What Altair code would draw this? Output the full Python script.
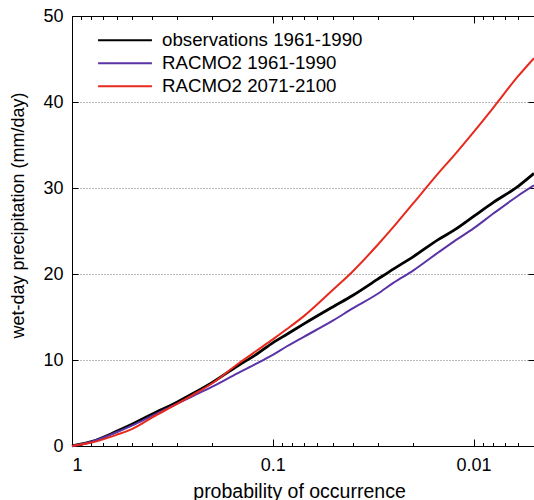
import altair as alt
import pandas as pd

# probability of occurrence (x) and wet-day precipitation (mm/day)
prob = [1, 0.8, 0.6, 0.5, 0.4, 0.3, 0.25, 0.2, 0.15, 0.12, 0.1, 0.085, 0.07, 0.05, 0.04,
        0.03, 0.025, 0.02, 0.015, 0.0125, 0.01, 0.008, 0.006, 0.005]
obs_1961 = [0, 0.5, 1.7, 2.55, 3.7, 5.1, 6.1, 7.4, 9.3, 10.7, 12.0, 13.0, 14.2, 16.2, 17.5,
            19.4, 20.6, 22.0, 24.0, 25.1, 26.7, 28.3, 30.2, 31.7]
racmo_1961 = [0, 0.5, 1.6, 2.4, 3.5, 4.9, 5.8, 6.9, 8.45, 9.6, 10.6, 11.6, 12.7, 14.6, 16.0,
              17.7, 19.0, 20.4, 22.5, 23.8, 25.3, 27.0, 29.1, 30.3]
racmo_2071 = [0, 0.4, 1.3, 2.0, 3.3, 4.9, 5.95, 7.3, 9.5, 11.1, 12.4, 13.6, 15.1, 18.2, 20.3,
              23.4, 25.5, 28.2, 31.7, 33.8, 36.5, 39.3, 43.0, 45.1]

series_names = ["observations 1961-1990", "RACMO2 1961-1990", "RACMO2 2071-2100"]
series_colors = ["#000000", "#5a33a6", "#e8291e"]
series_widths = [2.8, 2.0, 2.0]

major_x = [1, 0.1, 0.01]
minor_x = [0.9, 0.8, 0.7, 0.6, 0.5, 0.4, 0.3, 0.2,
           0.09, 0.08, 0.07, 0.06, 0.05, 0.04, 0.03, 0.02,
           0.009, 0.008, 0.007, 0.006]
y_ticks = [0, 10, 20, 30, 40, 50]

rows = []
for name, vals, w in zip(series_names, [obs_1961, racmo_1961, racmo_2071], series_widths):
    for p, v in zip(prob, vals):
        rows.append({"series": name, "p": p, "value": v, "w": w})
df = pd.DataFrame(rows)

FONT = "Liberation Sans"
xscale = alt.Scale(type="log", domain=[0.005, 1], reverse=True)
yscale = alt.Scale(domain=[0, 50], nice=False, zero=False)

lines = alt.Chart(df).mark_line(interpolate="monotone").encode(
    x=alt.X("p:Q", scale=xscale,
            axis=alt.Axis(orient="bottom", values=major_x, format="~g",
                          tickSize=alt.ExprRef(expr="-7"), labelPadding=17,
                          tickColor="black", domainColor="black", labelColor="black",
                          labelFontSize=18, labelFont=FONT, grid=False,
                          title="probability of occurrence", titleFontSize=19.5,
                          titleFont=FONT, titleFontWeight="normal", titleColor="black",
                          titleBaseline="alphabetic", titleAlign="center",
                          titleX=227, titleY=51)),
    y=alt.Y("value:Q", scale=yscale,
            axis=alt.Axis(orient="left", values=y_ticks,
                          tickSize=alt.ExprRef(expr="-6"), labelPadding=15,
                          tickColor="black", domainColor="black", labelColor="black",
                          labelFontSize=18, labelFont=FONT,
                          grid=True, gridDash=[1, 2], gridColor="#777777", gridWidth=1,
                          title="wet-day precipitation (mm/day)", titleFontSize=18,
                          titleFont=FONT, titleFontWeight="normal", titleColor="black",
                          titleBaseline="alphabetic", titleX=-49, titleY=199, titleAngle=-90,
                          titleAlign="center")),
    color=alt.Color("series:N",
                    scale=alt.Scale(domain=series_names, range=series_colors),
                    legend=alt.Legend(title=None, orient="none", legendX=25, legendY=13,
                                      symbolType="stroke", symbolSize=2900,
                                      symbolStrokeWidth=1.8, labelFontSize=18.7,
                                      labelFont=FONT, labelColor="black", labelLimit=0,
                                      clipHeight=22.5,
                                      labelOffset=9, rowPadding=0, padding=0)),
    strokeWidth=alt.StrokeWidth("w:Q", scale=None, legend=None),
)

ghost = alt.Chart(df).mark_point(opacity=0)

minor_bottom = ghost.encode(
    x=alt.X("p:Q", scale=xscale,
            axis=alt.Axis(orient="bottom", values=minor_x, labels=False, domain=False,
                          tickSize=alt.ExprRef(expr="-3.5"), tickColor="black",
                          grid=False, title=None)),
    y=alt.Y("value:Q", scale=yscale, axis=None),
)
major_top = ghost.encode(
    x=alt.X("p:Q", scale=xscale,
            axis=alt.Axis(orient="top", values=major_x, labels=False, domain=True,
                          domainColor="black",
                          tickSize=alt.ExprRef(expr="-7"), tickColor="black",
                          grid=False, title=None)),
    y=alt.Y("value:Q", scale=yscale, axis=None),
)
minor_top = ghost.encode(
    x=alt.X("p:Q", scale=xscale,
            axis=alt.Axis(orient="top", values=minor_x, labels=False, domain=False,
                          tickSize=alt.ExprRef(expr="-3.5"), tickColor="black",
                          grid=False, title=None)),
    y=alt.Y("value:Q", scale=yscale, axis=None),
)
right_ticks = ghost.encode(
    x=alt.X("p:Q", scale=xscale, axis=None),
    y=alt.Y("value:Q", scale=yscale,
            axis=alt.Axis(orient="right", values=y_ticks, labels=False, domain=False,
                          tickSize=alt.ExprRef(expr="-6"), tickColor="black",
                          grid=False, title=None)),
)

chart = alt.layer(lines, minor_bottom, major_top, minor_top, right_ticks).resolve_axis(
    x="independent", y="independent"
).properties(
    width=462, height=430,
    autosize=alt.AutoSizeParams(type="none"),
    padding={"left": 72, "top": 16, "right": 0, "bottom": 54},
).configure_view(stroke=None).configure(font=FONT)

chart.save("out.html", embed_options={"renderer": "svg", "actions": False})
